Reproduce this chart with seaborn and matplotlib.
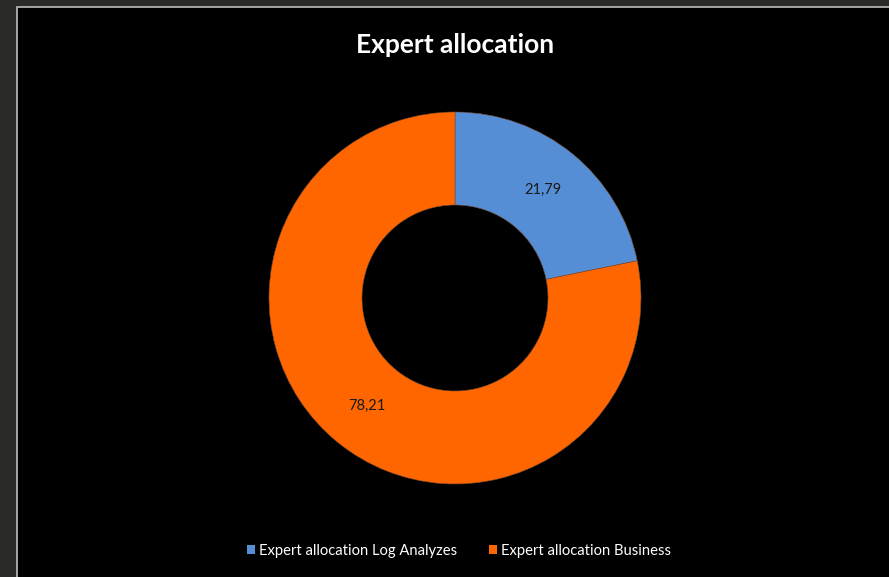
import matplotlib
matplotlib.use("Agg")
import matplotlib.pyplot as plt
import seaborn as sns
from matplotlib.patches import Rectangle

categories = ["Expert allocation Log Analyzes", "Expert allocation Business"]
values = [21.79, 78.21]
colors = ["#558ed5", "#ff6600"]

sns.set_theme(style="dark")
plt.rcParams['font.family'] = ['Lato', 'DejaVu Sans']

fig = plt.figure(figsize=(8.89, 5.77), dpi=100)
fig.patch.set_facecolor("#2a2a28")
W, H = 889, 577
# black chart area with light border
fig.add_artist(Rectangle((17 / W, -0.01), 1.0, 1 - 7 / H + 0.01, transform=fig.transFigure,
                         facecolor="black", edgecolor="#bdbdbd", linewidth=1.2, zorder=0))

ax = fig.add_axes([269 / W, (577 - 484) / H, 372 / W, 372 / H])
ax.set_facecolor("none")
wedges, texts, autotexts = ax.pie(
    values, colors=colors, startangle=90, counterclock=False,
    radius=1.0, wedgeprops=dict(width=0.5, edgecolor="#7a4a30", linewidth=0.4),
    autopct=lambda p: f"{p:.2f}".replace(".", ","), pctdistance=0.75,
    textprops=dict(color="#1a1a1a", fontsize=10.5))
ax.set_xlim(-1, 1)
ax.set_ylim(-1, 1)
ax.set_aspect("equal")
ax.axis("off")

fig.text(455 / W, 1 - 45 / H, "Expert allocation", ha="center", va="center",
         color="white", fontsize=19, fontweight="bold")

leg = fig.legend(wedges, categories, loc="center", bbox_to_anchor=(459 / W, 1 - 551 / H),
                 ncol=2, frameon=False, fontsize=10.6, labelcolor="white",
                 handlelength=0.55, handleheight=0.55, handletextpad=0.3, columnspacing=2.1)
for h in leg.legend_handles:
    h.set_edgecolor("none")

fig.savefig("out.png", dpi=100, facecolor=fig.get_facecolor())
